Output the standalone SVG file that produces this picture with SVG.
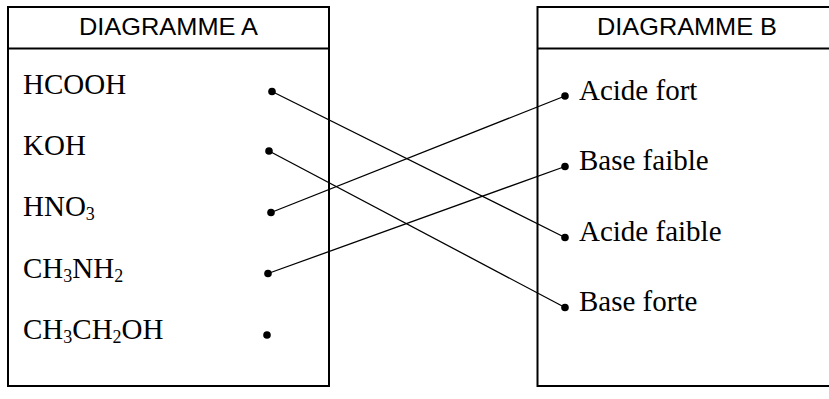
<svg xmlns="http://www.w3.org/2000/svg" width="829" height="399" viewBox="0 0 829 399">
<style>
.box{fill:none;stroke:#000;stroke-width:2}
.hdr{font-family:"Liberation Sans",Arial,sans-serif;font-size:24px;fill:#000;text-anchor:middle}
.lbl{font-family:"Liberation Serif","Times New Roman",serif;font-size:29px;fill:#000}
.sub{font-size:18px}
.dot{fill:#000}
.conn{stroke:#000;stroke-width:1.3;fill:none}
</style>
<rect width="829" height="399" fill="#fff"/>
<g id="diagramme-a">
<rect class="box" x="8" y="7" width="321" height="379"/>
<line class="box" x1="8" y1="48.5" x2="329" y2="48.5"/>
<text class="hdr" x="168.5" y="35" textLength="179" lengthAdjust="spacingAndGlyphs">DIAGRAMME A</text>
</g>
<g id="diagramme-b">
<rect class="box" x="537.5" y="7" width="300" height="379"/>
<line class="box" x1="537.5" y1="48.5" x2="837.5" y2="48.5"/>
<text class="hdr" x="687" y="35" textLength="180" lengthAdjust="spacingAndGlyphs">DIAGRAMME B</text>
</g>
<g id="hcooh"><text class="lbl" x="23" y="94">HCOOH</text><circle class="dot" cx="272" cy="91.5" r="3.8"/></g>
<g id="koh"><text class="lbl" x="23" y="155">KOH</text><circle class="dot" cx="269" cy="151" r="3.8"/></g>
<g id="hno3"><text class="lbl" x="23" y="216">HNO<tspan class="sub" dy="4">3</tspan></text><circle class="dot" cx="271" cy="212.5" r="3.8"/></g>
<g id="ch3nh2"><text class="lbl" x="23" y="278">CH<tspan class="sub" dy="4">3</tspan><tspan dy="-4">NH</tspan><tspan class="sub" dy="4">2</tspan></text><circle class="dot" cx="268" cy="273.5" r="3.8"/></g>
<g id="ch3ch2oh"><text class="lbl" x="23" y="339">CH<tspan class="sub" dy="4">3</tspan><tspan dy="-4">CH</tspan><tspan class="sub" dy="4">2</tspan><tspan dy="-4">OH</tspan></text><circle class="dot" cx="267" cy="335" r="3.8"/></g>
<g id="acide-fort"><circle class="dot" cx="565" cy="96" r="3.8"/><text class="lbl" x="579" y="100">Acide fort</text></g>
<g id="base-faible"><circle class="dot" cx="565" cy="166.5" r="3.8"/><text class="lbl" x="579" y="169.5">Base faible</text></g>
<g id="acide-faible"><circle class="dot" cx="565" cy="237.5" r="3.8"/><text class="lbl" x="579" y="241">Acide faible</text></g>
<g id="base-forte"><circle class="dot" cx="565" cy="307.5" r="3.8"/><text class="lbl" x="579" y="311">Base forte</text></g>
<g id="connectors">
<line class="conn" x1="272" y1="91.5" x2="565" y2="237.5"/>
<line class="conn" x1="269" y1="151" x2="565" y2="307.5"/>
<line class="conn" x1="271" y1="212.5" x2="565" y2="96"/>
<line class="conn" x1="268" y1="273.5" x2="565" y2="166.5"/>
</g>
</svg>
